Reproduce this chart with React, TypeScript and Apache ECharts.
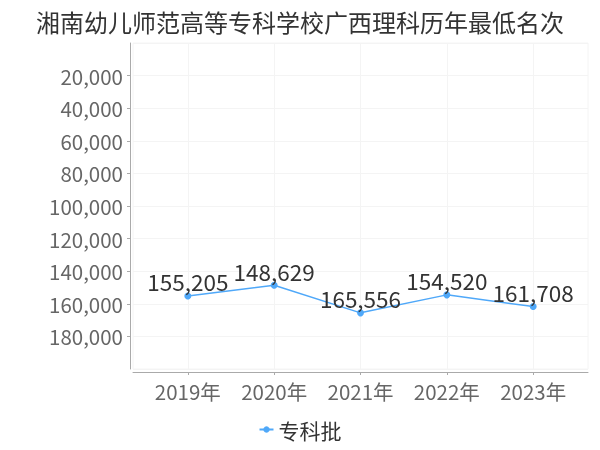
import React, { useEffect, useRef } from "react";
import * as echarts from "echarts";

const titleText = "湘南幼儿师范高等专科学校广西理科历年最低名次";
const years = [2019, 2020, 2021, 2022, 2023];
const ranks = [155205, 148629, 165556, 154520, 161708];
const seriesName = "专科批";

const fmt = (v: number) => String(Math.round(v)).replace(/\B(?=(\d{3})+(?!\d))/g, ",");

export default function App() {
  const ref = useRef<HTMLDivElement>(null);
  useEffect(() => {
    if (!ref.current) return;
    const chart = echarts.init(ref.current, undefined, { renderer: "svg" });
    chart.setOption({
      animation: false,
      textStyle: { fontFamily: "'Noto Sans CJK SC', sans-serif" },
      title: {
        text: titleText,
        left: "center",
        top: 4,
        textStyle: { fontSize: 24, fontWeight: "normal", color: "#333" },
      },
      grid: {
        left: 133,
        right: 12,
        top: 43,
        bottom: 81,
        show: true,
        borderColor: "#f4f4f4",
        borderWidth: 1,
      },
      legend: {
        bottom: 5,
        left: "center",
        itemWidth: 14,
        itemHeight: 8,
        itemGap: 6,
        textStyle: { fontSize: 21, color: "#333" },
        data: [seriesName],
      },
      xAxis: {
        type: "value",
        min: 2018.365,
        max: 2023.635,
        offset: 3,
        axisLine: { onZero: false, lineStyle: { color: "#aaa" } },
        axisTick: { show: true, length: 3, customValues: years, lineStyle: { color: "#aaa" } },
        axisLabel: {
          customValues: years,
          formatter: (v: number) => `${Math.round(v)}年`,
          fontSize: 20.5,
          color: "#666",
          margin: 9,
        },
        splitLine: { show: true, lineStyle: { color: "#f4f4f4" } },
      },
      yAxis: {
        type: "value",
        inverse: true,
        min: 0,
        max: 200000,
        interval: 20000,
        offset: 3,
        axisLine: { show: true, lineStyle: { color: "#aaa" } },
        axisTick: { show: true, length: 3, lineStyle: { color: "#aaa" } },
        axisLabel: {
          showMinLabel: false,
          showMaxLabel: false,
          formatter: (v: number) => fmt(v),
          fontSize: 20.5,
          color: "#666",
          margin: 7,
        },
        splitLine: { show: true, lineStyle: { color: "#f4f4f4" } },
      },
      series: [
        {
          name: seriesName,
          type: "line",
          data: years.map((y, i) => [y, ranks[i]]),
          symbol: "circle",
          symbolSize: 7,
          itemStyle: { color: "#4fa8f9" },
          lineStyle: { color: "#4fa8f9", width: 1.5 },
          label: {
            show: true,
            position: "top",
            distance: 0,
            fontSize: 22.5,
            color: "#333",
            formatter: (p: any) => fmt(p.value[1]),
          },
        },
      ],
    });
    return () => chart.dispose();
  }, []);
  return (
    <div
      ref={ref}
      style={{ position: "fixed", left: 0, top: 0, width: 600, height: 450 }}
    />
  );
}
